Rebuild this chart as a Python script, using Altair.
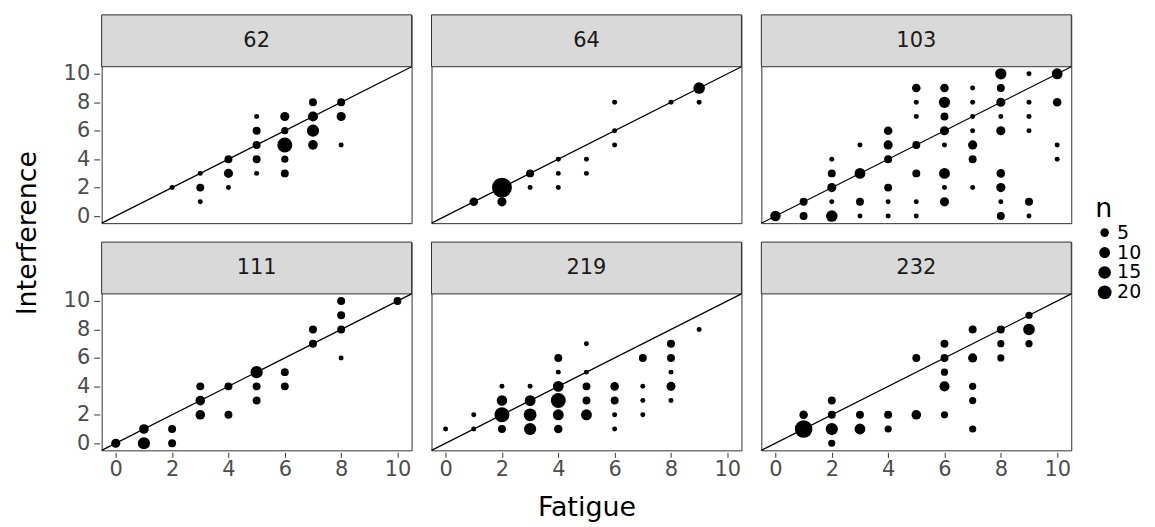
import altair as alt
import pandas as pd

FONT = "DejaVu Sans"

panel_ids = ["62", "64", "103", "111", "219", "232"]

fatigue_62 = [2, 3, 3, 3, 4, 4, 4, 5, 5, 5, 5, 5, 6, 6, 6, 6, 6, 7, 7, 7, 7, 8, 8, 8]
interf_62 = [2, 3, 2, 1, 4, 3, 2, 7, 6, 5, 4, 3, 7, 6, 5, 4, 3, 8, 7, 6, 5, 8, 7, 5]
n_62 = [1, 1, 4, 1, 4, 6, 1, 1, 4, 4, 4, 1, 6, 3, 25, 3, 4, 4, 8, 14, 7, 4, 6, 1]

fatigue_64 = [1, 2, 2, 3, 3, 4, 4, 4, 5, 5, 6, 6, 6, 8, 9, 9]
interf_64 = [1, 2, 1, 3, 2, 4, 3, 2, 4, 3, 8, 6, 5, 8, 9, 8]
n_64 = [5, 57, 6, 4, 1, 1, 1, 1, 1, 1, 1, 1, 1, 1, 12, 1]

fatigue_103 = [8, 9, 10,
               5, 6, 7, 8,
               5, 6, 7, 8, 9, 10,
               5, 6, 7, 8, 9,
               4, 6, 7, 8, 9,
               3, 4, 5, 6, 7, 10,
               2, 4, 7, 10,
               2, 3, 5, 6, 8,
               2, 4, 6, 7, 8,
               1, 2, 3, 4, 5, 6, 8, 9,
               0, 1, 2, 3, 4, 5, 8, 9]
interf_103 = [10, 10, 10,
              9, 9, 9, 9,
              8, 8, 8, 8, 8, 8,
              7, 7, 7, 7, 7,
              6, 6, 6, 6, 6,
              5, 5, 5, 5, 5, 5,
              4, 4, 4, 4,
              3, 3, 3, 3, 3,
              2, 2, 2, 2, 2,
              1, 1, 1, 1, 1, 1, 1, 1,
              0, 0, 0, 0, 0, 0, 0, 0]
n_103 = [11, 1, 10,
         5, 5, 1, 4,
         1, 11, 1, 6, 1, 5,
         1, 4, 1, 1, 1,
         5, 6, 1, 6, 1,
         1, 6, 4, 1, 6, 1,
         1, 4, 4, 1,
         4, 10, 4, 10, 5,
         6, 4, 1, 1, 6,
         4, 1, 4, 1, 1, 6, 1, 4,
         9, 4, 12, 1, 1, 1, 4, 1]

fatigue_111 = [0, 1, 1, 2, 2, 3, 3, 3, 4, 4, 5, 5, 5, 6, 6, 7, 7, 8, 8, 8, 8, 10]
interf_111 = [0, 1, 0, 1, 0, 4, 3, 2, 4, 2, 5, 4, 3, 5, 4, 8, 7, 10, 9, 8, 6, 10]
n_111 = [6, 7, 14, 4, 4, 4, 7, 7, 4, 4, 14, 4, 4, 4, 4, 4, 4, 4, 4, 4, 1, 4]

fatigue_219 = [0, 1, 1, 2, 2, 2, 2, 3, 3, 3, 3, 4, 4, 4, 4, 4, 4, 5, 5, 5, 5, 5,
               6, 6, 6, 6, 7, 7, 7, 7, 8, 8, 8, 8, 8, 9]
interf_219 = [1, 2, 1, 4, 3, 2, 1, 4, 3, 2, 1, 6, 5, 4, 3, 2, 1, 7, 5, 4, 3, 2,
              4, 3, 2, 1, 6, 4, 3, 2, 7, 6, 5, 4, 3, 8]
n_219 = [1, 1, 1, 1, 9, 25, 4, 1, 10, 16, 14, 4, 1, 10, 25, 10, 5, 1, 1, 4, 4, 10,
         5, 4, 1, 1, 4, 1, 1, 1, 4, 4, 1, 6, 1, 1]

fatigue_232 = [1, 1, 2, 2, 2, 2, 3, 3, 4, 4, 5, 5, 6, 6, 6, 6, 6, 7, 7, 7, 7, 7,
               8, 8, 8, 9, 9, 9]
interf_232 = [2, 1, 3, 2, 1, 0, 2, 1, 2, 1, 6, 2, 7, 6, 5, 4, 2, 8, 6, 4, 3, 1,
              8, 7, 6, 9, 8, 7]
n_232 = [5, 40, 4, 4, 14, 3, 4, 10, 4, 3, 4, 7, 4, 4, 3, 8, 3, 4, 6, 3, 3, 3,
         4, 3, 3, 3, 12, 3]

axis_ticks = [0, 2, 4, 6, 8, 10]
axis_domain = [-0.5, 10.5]
diag = [-0.5, 10.5]
legend_values = [5, 10, 15, 20]

series = {
    "62": (fatigue_62, interf_62, n_62),
    "64": (fatigue_64, interf_64, n_64),
    "103": (fatigue_103, interf_103, n_103),
    "111": (fatigue_111, interf_111, n_111),
    "219": (fatigue_219, interf_219, n_219),
    "232": (fatigue_232, interf_232, n_232),
}

records = []
for i, pid in enumerate(panel_ids):
    fx, iy, nn = series[pid]
    for a, b, c in zip(fx, iy, nn):
        records.append({"id": pid, "prow": i // 3, "pcol": i % 3,
                        "Fatigue": a, "Interference": b, "n": c})
df = pd.DataFrame(records)

W = 311
PH = 157
SH = 52
H = PH + SH

groups = ["id", "prow", "pcol"]

x_enc = alt.X("Fatigue:Q",
              scale=alt.Scale(domain=axis_domain, nice=False, zero=False),
              axis=alt.Axis(values=axis_ticks, title=None, labelPadding=1, tickSize=5))
y_enc = alt.Y("Interference:Q",
              scale=alt.Scale(domain=axis_domain, nice=False, zero=False, range=[H, SH]),
              axis=alt.Axis(values=axis_ticks, title=None, labelPadding=4, tickSize=6))

points = alt.Chart().mark_circle(color="black", opacity=1).encode(
    x=x_enc,
    y=y_enc,
    size=alt.Size("n:Q",
                  scale=alt.Scale(type="pow", exponent=0.7, domain=[1, 57], range=[25, 400]),
                  legend=alt.Legend(values=legend_values, title="n", orient="none",
                                    legendX=997, legendY=182)),
)

rule = alt.Chart().transform_aggregate(cnt="count()", groupby=groups).mark_rule(
    color="black", strokeWidth=1.2).encode(
    x=alt.datum(diag[0]), y=alt.datum(diag[0]),
    x2=alt.datum(diag[1]), y2=alt.datum(diag[1]),
)

strip_rect = alt.Chart().transform_aggregate(cnt="count()", groupby=groups).mark_rect(
    fill="#d9d9d9", stroke="#333333", strokeWidth=1).encode(
    x=alt.value(0), x2=alt.value(W), y=alt.value(0), y2=alt.value(SH))

strip_text = alt.Chart().transform_aggregate(cnt="count()", groupby=groups).mark_text(
    font=FONT, fontSize=21, color="#1a1a1a", baseline="middle").encode(
    text="id:N", x=alt.value(W / 2), y=alt.value(SH / 2))

layer = alt.layer(strip_rect, strip_text, rule, points, data=df).properties(width=W, height=H)

chart = layer.facet(
    row=alt.Row("prow:O", header=alt.Header(labels=False, title="Interference",
                                            titleFont=FONT, titleFontSize=27,
                                            titleFontWeight="normal", titleColor="black",
                                            titlePadding=11)),
    column=alt.Column("pcol:O", header=alt.Header(labels=False, title="Fatigue",
                                                  titleOrient="bottom",
                                                  titleFont=FONT, titleFontSize=27,
                                                  titleFontWeight="normal", titleColor="black",
                                                  titlePadding=6)),
    spacing=16,
).configure_view(
    stroke="#333333", strokeWidth=1
).configure_axis(
    grid=False, domain=False, tickColor="#333333", tickWidth=1,
    labelColor="#4d4d4d", labelFont=FONT, labelFontSize=21,
).configure_legend(
    titleFont=FONT, titleFontSize=27, titleFontWeight="normal", titleColor="black",
    labelFont=FONT, labelFontSize=19, labelColor="black",
    symbolFillColor="black", symbolStrokeWidth=0, symbolType="circle",
    rowPadding=0, titlePadding=0, labelOffset=3,
)

chart.save("out.html", embed_options={"renderer": "svg", "actions": False})
